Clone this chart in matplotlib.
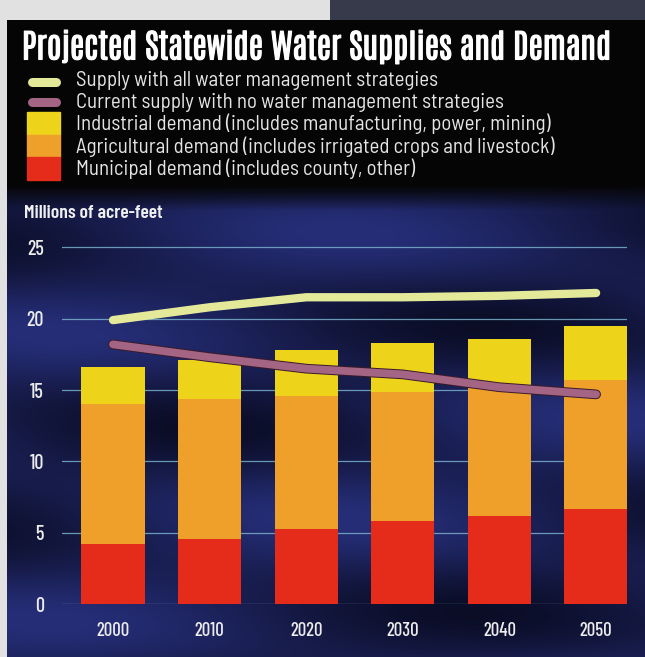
import numpy as np
import matplotlib.pyplot as plt
import matplotlib.patheffects as pe
from matplotlib.patches import Rectangle
from matplotlib.lines import Line2D

# values (millions of acre-feet)
years = ['2000', '2010', '2020', '2030', '2040', '2050']
municipal = [4.2, 4.6, 5.3, 5.8, 6.2, 6.7]
agricultural = [9.8, 9.8, 9.3, 9.1, 9.1, 9.0]
industrial = [2.6, 2.7, 3.2, 3.4, 3.3, 3.8]
supply_all = [19.9, 20.8, 21.5, 21.5, 21.6, 21.8]
supply_current = [18.2, 17.3, 16.5, 16.1, 15.2, 14.7]
yticks = [0, 5, 10, 15, 20, 25]

title = 'Projected Statewide Water Supplies and Demand'
labels = ['Supply with all water management strategies',
          'Current supply with no water management strategies',
          'Industrial demand (includes manufacturing, power, mining)',
          'Agricultural demand (includes irrigated crops and livestock)',
          'Municipal demand (includes county, other)']

W, H = 645, 657
NARROW = ['Barlow Condensed', 'DejaVu Sans']
SEMI = ['Barlow Semi Condensed', 'Barlow Condensed', 'DejaVu Sans']
TITLE_FONT = ['Antonio', 'Pathway Gothic One', 'League Gothic', 'Saira Extra Condensed',
              'Barlow Condensed', 'DejaVu Sans']
c_red, c_orange, c_yellow = '#e52b1a', '#efa02a', '#edd31a'
c_supply, c_current = '#e4e99a', '#a46483'


def fx(px):
    return px / W


def fy(py):
    # pixel from top -> figure fraction from bottom
    return 1 - py / H


fig = plt.figure(figsize=(W / 100, H / 100), dpi=100)
fig.patch.set_facecolor('#050505')

# background: dark satin-ish navy for the chart area
bg = fig.add_axes([0, 0, 1, 1], zorder=-5)
bg.set_axis_off()
yy, xx = np.mgrid[0:H, 0:W]
t = 0.55 + 0.25 * np.sin((xx * 0.35 + yy) / 45.0) + 0.2 * np.sin((yy - xx * 0.15) / 23.0)
t = np.clip(t, 0, 1)
navy = np.array([38, 46, 120]) / 255
dark = np.array([8, 10, 30]) / 255
img = dark + (navy - dark) * t[..., None]
black = np.array([5, 5, 5]) / 255
fade = np.clip((yy - 185) / 25.0, 0, 1)[..., None]
img = black + (img - black) * fade
img[0:20, 0:330] = np.array([225, 225, 225]) / 255
img[0:20, 330:] = np.array([55, 58, 75]) / 255
img[:, 0:7] = np.array([225, 225, 225]) / 255
bg.imshow(img, extent=[0, 1, 0, 1], aspect='auto', transform=bg.transAxes)

# main axes
x = np.arange(len(years))
ax = fig.add_axes([fx(62), fy(604.3), fx(565), (604.3 - 233) / H])
ax.set_facecolor('none')
for s in ax.spines.values():
    s.set_visible(False)
ax.set_xlim(-0.528, 5.32)
ax.set_ylim(0, 26)
ax.set_yticks(yticks)
for v in yticks:
    ax.axhline(v, color='#78b0cc', lw=0.9, alpha=0.85, zorder=1)

bw = 0.655
ag_bottom = np.array(municipal)
ind_bottom = ag_bottom + np.array(agricultural)
ax.bar(x, municipal, bw, color=c_red, zorder=2)
ax.bar(x, agricultural, bw, bottom=ag_bottom, color=c_orange, zorder=2)
ax.bar(x, industrial, bw, bottom=ind_bottom, color=c_yellow, zorder=2)
ax.plot(x, supply_all, color=c_supply, lw=6, solid_capstyle='round', solid_joinstyle='round', zorder=3)
ax.plot(x, supply_current, color='#3a1a2a', lw=7, solid_capstyle='round', solid_joinstyle='round', zorder=3)
ax.plot(x, supply_current, color=c_current, lw=5.6, solid_capstyle='round', solid_joinstyle='round', zorder=3)

ax.set_xticks(x)
ax.set_xticklabels(years)
ax.tick_params(length=0, colors='#ececec', labelsize=13.5)
ax.tick_params(axis='y', pad=13, labelsize=14.5)
ax.tick_params(axis='x', pad=13)
for lab in ax.get_xticklabels() + ax.get_yticklabels():
    lab.set_family(NARROW)
    lab.set_fontweight('medium')

# title: fit to the width it has in the original (x 22..612)
ttl = fig.text(fx(22), fy(59.5), title, color='white', fontsize=30,
               fontweight='semibold', family=TITLE_FONT, va='baseline', ha='left',
               path_effects=[pe.withStroke(linewidth=0.8, foreground='white')])
rend = fig.canvas.get_renderer()
tw = ttl.get_window_extent(rend).width
ttl.set_fontsize(30 * 588 / tw)

fig.text(fx(24), fy(213), 'Millions of acre-feet', color='#f0f0f0', fontsize=14,
         fontweight='semibold', family=NARROW, va='center', ha='left')

# legend drawn by hand
baselines = [86, 108, 130.5, 153, 175]
fig.add_artist(Line2D([fx(32), fx(56)], [fy(81.5), fy(81.5)], color=c_supply, lw=6.5,
                      solid_capstyle='round'))
fig.add_artist(Line2D([fx(32), fx(56)], [fy(101.5), fy(101.5)], color=c_current, lw=6.5,
                      solid_capstyle='round'))
for top, bot, c in [(112, 135, c_yellow), (135, 157, c_orange), (157, 180, c_red)]:
    fig.add_artist(Rectangle((fx(27), fy(bot)), fx(33), (bot - top) / H, color=c,
                             transform=fig.transFigure))
for b, lab in zip(baselines, labels):
    fig.text(fx(76), fy(b), lab, color='#e4e4e4', fontsize=15, family=SEMI,
             va='baseline', ha='left')

fig.savefig('out.png', dpi=100, facecolor=fig.get_facecolor())
